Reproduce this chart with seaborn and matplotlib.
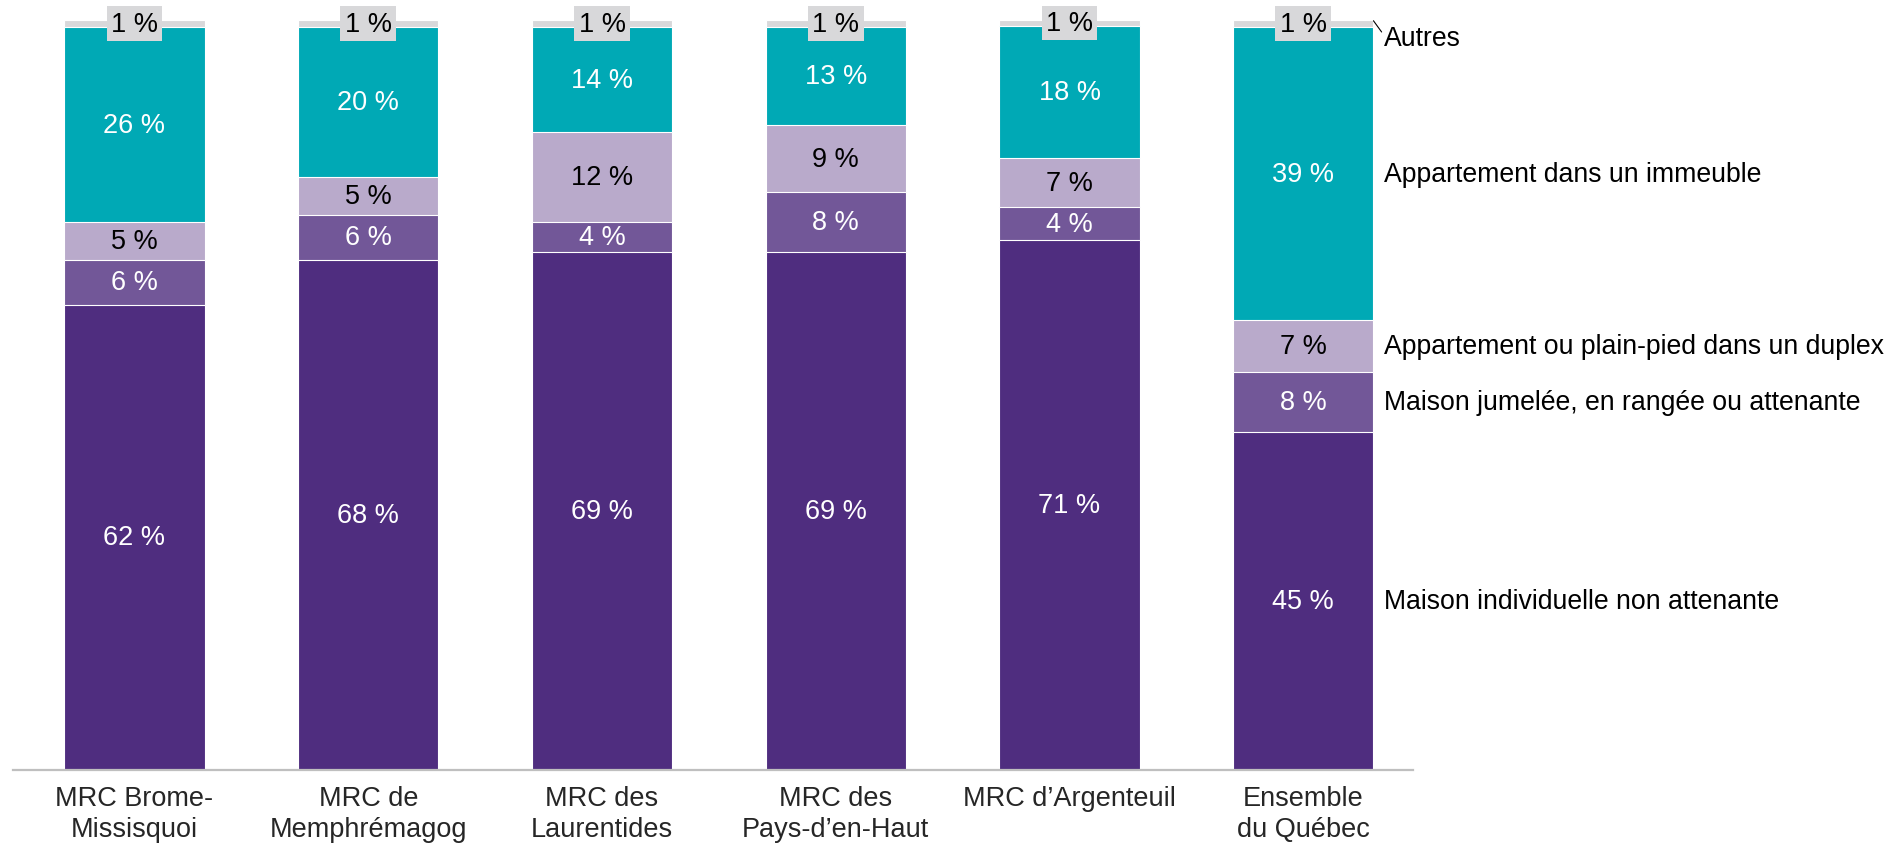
import numpy as np
import seaborn as sns
import matplotlib.pyplot as plt

# categories (x axis)
regions = ["MRC Brome-\nMissisquoi", "MRC de\nMemphrémagog", "MRC des\nLaurentides",
           "MRC des\nPays-d\u2019en-Haut", "MRC d\u2019Argenteuil", "Ensemble\ndu Québec"]

# series, bottom to top (percent)
maison_indiv = [62, 68, 69, 69, 70.6, 45]
maison_jumelee = [6, 6, 4, 8, 4.4, 8]
app_duplex = [5, 5, 12, 9, 6.6, 7]
app_immeuble = [26, 20, 14, 13, 17.6, 39]
autres = [1, 1, 1, 1, 0.8, 1]

series_names = ["Maison individuelle non attenante", "Maison jumelée, en rangée ou attenante",
                "Appartement ou plain-pied dans un duplex", "Appartement dans un immeuble", "Autres"]

colors = ["#4F2D7F", "#725798", "#B9AACB", "#00A9B5", "#D8D8DA"]
text_colors = ["white", "white", "black", "white", "black"]

sns.set_style("white")
plt.rcParams['font.family'] = ['Liberation Sans', 'DejaVu Sans']

layers = np.array([maison_indiv, maison_jumelee, app_duplex, app_immeuble, autres])
cum = layers.cumsum(axis=0)

fig = plt.figure(figsize=(19.02, 8.45), dpi=100)
ax = fig.add_axes([0.0068, 0.0876, 0.7362, 0.9053])

# draw stacked bars from the top layer down so each one covers the part below
for i in range(len(layers) - 1, -1, -1):
    sns.barplot(x=regions, y=cum[i], order=regions, color=colors[i], saturation=1,
                width=0.6, edgecolor="white", linewidth=0.8, ax=ax)

# value labels in the middle of each segment
for i in range(len(layers)):
    for j in range(len(regions)):
        v = layers[i, j]
        y = cum[i, j] - v / 2
        kw = {}
        if i == len(layers) - 1:
            kw["bbox"] = dict(boxstyle="square,pad=0.16", fc=colors[i], ec="none")
        ax.text(j, y, f"{int(round(v))} %", ha="center", va="center",
                fontsize=19.5, color=text_colors[i], **kw)

# series names to the right of the last bar
last = len(regions) - 1
for i, name in enumerate(series_names):
    y = cum[i, last] - layers[i, last] / 2
    if i == len(layers) - 1:
        y = cum[i, last] - 2.4
        ax.plot([last + 0.3, last + 0.335], [cum[i, last] - 0.1, cum[i, last] - 1.6],
                color="black", lw=0.8)
    ax.text(last + 0.346, y, name, ha="left", va="center", fontsize=19.2, color="black")

ax.set_xlim(-0.52, 5.47)
ax.set_ylim(0, 102)
ax.set_yticks([])
ax.set_ylabel("")
ax.set_xticks(range(len(regions)))
ax.set_xticklabels(regions, fontsize=19.5, linespacing=1.22)
ax.tick_params(axis="x", length=0, pad=11)
for s in ["top", "right", "left"]:
    ax.spines[s].set_visible(False)
ax.spines["bottom"].set_color("#BFBFBF")
ax.spines["bottom"].set_linewidth(1.6)

fig.savefig("out.png", dpi=100)
